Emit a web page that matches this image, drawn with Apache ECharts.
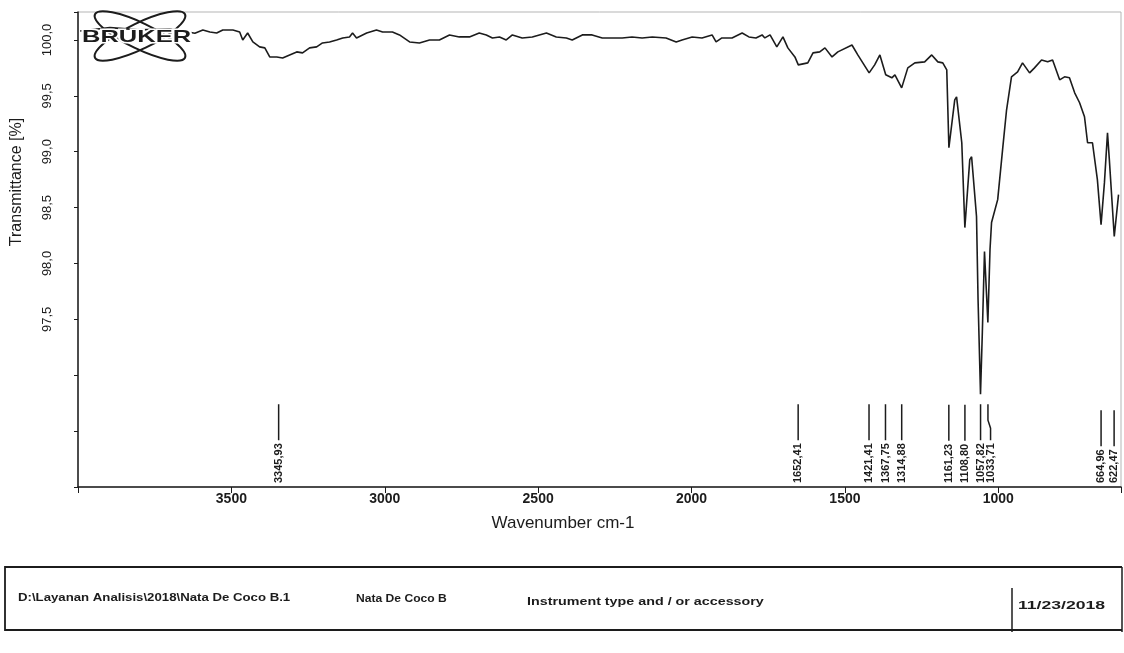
<!DOCTYPE html>
<html>
<head>
<meta charset="utf-8">
<script src="https://cdn.jsdelivr.net/npm/echarts@6/dist/echarts.min.js"></script>
<style>
  html, body { margin: 0; padding: 0; background: #fff; }
  #chart { width: 1124px; height: 653px; }
</style>
</head>
<body>
<div id="chart"></div>
<script>
// spectrum (cm-1 / %T)
const wavenumbers = [3993, 3896, 3798, 3701, 3619, 3593, 3570, 3548, 3528, 3495, 3473, 3463, 3447, 3430,
  3408, 3391, 3375, 3352, 3333, 3310, 3287, 3268, 3245, 3222, 3203, 3180, 3157, 3137, 3115, 3105, 3092,
  3059, 3027, 3007, 2975, 2952, 2919, 2887, 2854, 2822, 2789, 2757, 2724, 2692, 2669, 2649, 2626, 2604,
  2584, 2552, 2519, 2473, 2441, 2408, 2389, 2356, 2324, 2291, 2259, 2226, 2194, 2161, 2128, 2083, 2050,
  2031, 1998, 1966, 1933, 1920, 1901, 1868, 1835, 1813, 1790, 1770, 1761, 1744, 1722, 1702, 1686, 1663,
  1652, 1621, 1604, 1582, 1565, 1542, 1523, 1477, 1458, 1421, 1403, 1386, 1367, 1347, 1337, 1315, 1295,
  1272, 1240, 1217, 1197, 1181, 1168, 1161, 1142, 1136, 1119, 1109, 1093, 1087, 1071, 1066, 1058, 1052,
  1045, 1034, 1027, 1022, 1002, 986, 973, 957, 937, 921, 898, 882, 859, 839, 823, 800, 784, 768, 751,
  735, 719, 709, 693, 677, 665, 654, 644, 638, 622, 608];
const transmittance = [100.08, 100.11, 100.09, 100.10, 100.06, 100.089, 100.071, 100.062, 100.089, 100.089,
  100.071, 100.0, 100.062, 99.982, 99.938, 99.929, 99.848, 99.848, 99.839, 99.866, 99.893, 99.884, 99.929,
  99.938, 99.973, 99.982, 100.0, 100.018, 100.027, 100.062, 100.018, 100.062, 100.089, 100.071, 100.071,
  100.045, 99.982, 99.973, 100.0, 100.0, 100.045, 100.027, 100.027, 100.062, 100.045, 100.018, 100.027,
  100.0, 100.045, 100.018, 100.027, 100.062, 100.027, 100.018, 100.0, 100.045, 100.045, 100.018, 100.018,
  100.018, 100.027, 100.018, 100.027, 100.018, 99.982, 100.0, 100.027, 100.018, 100.045, 99.982, 100.018,
  100.018, 100.062, 100.027, 100.018, 100.045, 100.018, 100.045, 99.938, 100.027, 99.929, 99.848, 99.777,
  99.795, 99.884, 99.893, 99.929, 99.848, 99.893, 99.955, 99.866, 99.705, 99.777, 99.866, 99.688, 99.661,
  99.688, 99.571, 99.75, 99.795, 99.804, 99.866, 99.804, 99.795, 99.732, 99.036, 99.464, 99.491, 99.080,
  98.321, 98.929, 98.955, 98.420, 97.679, 96.830, 97.384, 98.107, 97.473, 98.125, 98.366, 98.571, 99.018,
  99.375, 99.670, 99.714, 99.795, 99.705, 99.750, 99.821, 99.804, 99.821, 99.643, 99.670, 99.661, 99.527,
  99.438, 99.313, 99.080, 99.080, 98.750, 98.348, 98.723, 99.170, 98.929, 98.241, 98.616];

const peakPositions = [3345.93, 1652.41, 1421.41, 1367.75, 1314.88, 1161.23, 1108.80, 1057.82, 1033.71, 664.96, 622.47];
const xTickLabels = [3500, 3000, 2500, 2000, 1500, 1000];
const yTickLabels = [97.5, 98.0, 98.5, 99.0, 99.5, 100.0];

const X_MIN = 600, X_MAX = 4000;
const Y_MIN = 96, Y_MAX = 100.25;

const INK = '#1c1c1c';
const FONT = "'Liberation Sans', Arial, sans-serif";
const PEAK_FONT = "bold 11px 'Liberation Sans', Arial, sans-serif";
const FOOT_FONT = "bold 11px 'Liberation Sans', Arial, sans-serif";

const measureCtx = document.createElement('canvas').getContext('2d');
measureCtx.font = PEAK_FONT;

const comma = (v, d) => v.toFixed(d).replace('.', ',');

const myChart = echarts.init(document.getElementById('chart'));

// spread crowded peak labels apart (left to right on screen)
function labelXs(api) {
  const xs = peakPositions.map(w => api.coord([w, Y_MIN])[0]);
  const out = xs.slice();
  for (let i = 1; i < out.length; i++) {
    if (out[i] - out[i - 1] < 10) out[i] = out[i - 1] + 10;
  }
  return { xs, out };
}

myChart.setOption({
  animation: false,
  backgroundColor: '#fff',
  grid: {
    left: 78, right: 3, top: 12, bottom: 166,
    show: true, borderColor: '#b5b5b5', borderWidth: 1
  },
  xAxis: {
    type: 'value',
    inverse: true,
    min: X_MIN,
    max: X_MAX,
    splitNumber: 7,
    axisLine: { lineStyle: { color: INK, width: 1.5 } },
    axisTick: { show: true, length: 6, lineStyle: { color: INK } },
    splitLine: { show: false },
    axisLabel: {
      margin: 5,
      color: INK,
      fontFamily: FONT,
      fontWeight: 'bold',
      fontSize: 14,
      formatter: v => xTickLabels.includes(v) ? String(v) : ''
    }
  },
  yAxis: {
    type: 'value',
    min: Y_MIN,
    max: Y_MAX,
    interval: 0.5,
    axisLine: { show: true, lineStyle: { color: INK, width: 1.5 } },
    axisTick: { show: true, length: 4, lineStyle: { color: INK } },
    splitLine: { show: false },
    axisLabel: {
      rotate: 90,
      margin: 24,
      color: INK,
      fontFamily: FONT,
      fontSize: 13,
      formatter: v => yTickLabels.some(t => Math.abs(t - v) < 1e-6) ? comma(v, 1) : ''
    }
  },
  series: [
    {
      type: 'line',
      data: wavenumbers.map((w, i) => [w, transmittance[i]]),
      showSymbol: false,
      lineStyle: { color: INK, width: 1.6 },
      z: 3
    },
    {
      type: 'custom',
      data: peakPositions.map(w => [w, Y_MIN]),
      encode: { x: 0, y: 1 },
      clip: false,
      z: 4,
      renderItem(params, api) {
        const w = api.value(0);
        const i = params.dataIndex;
        const pos = labelXs(api);
        const trueX = pos.xs[i];
        const x = pos.out[i];
        const bottom = api.coord([w, Y_MIN])[1] - 4;
        const label = comma(w, 2);
        const len = measureCtx.measureText(label).width;
        const top = bottom - len - 3;
        const pts = Math.abs(x - trueX) < 0.5
          ? [[x, top], [x, top - 36]]
          : [[x, top], [x, top - 12], [trueX, top - 20], [trueX, top - 36]];
        return {
          type: 'group',
          children: [
            {
              type: 'text',
              x: x, y: bottom,
              rotation: Math.PI / 2,
              style: { text: label, x: 0, y: 0, align: 'left', verticalAlign: 'middle', font: PEAK_FONT, fill: INK }
            },
            {
              type: 'polyline',
              shape: { points: pts },
              style: { stroke: INK, lineWidth: 1.5, fill: null }
            }
          ]
        };
      }
    }
  ],
  graphic: [
    // axis titles
    {
      type: 'text', x: 17, y: 182, rotation: Math.PI / 2,
      style: { text: 'Transmittance [%]', align: 'center', verticalAlign: 'middle', font: "16px 'Liberation Sans', Arial, sans-serif", fill: INK }
    },
    {
      type: 'text', x: 563, y: 523,
      style: { text: 'Wavenumber cm-1', align: 'center', verticalAlign: 'middle', font: "17px 'Liberation Sans', Arial, sans-serif", fill: INK }
    },
    // Bruker logo
    {
      type: 'ellipse', x: 140, y: 36, rotation: 0.45,
      shape: { cx: 0, cy: 0, rx: 50, ry: 13 },
      style: { fill: null, stroke: INK, lineWidth: 2 }, z: 10
    },
    {
      type: 'ellipse', x: 140, y: 36, rotation: -0.45,
      shape: { cx: 0, cy: 0, rx: 50, ry: 13 },
      style: { fill: null, stroke: INK, lineWidth: 2 }, z: 10
    },
    {
      type: 'text', x: 82, y: 37, z: 11, scaleX: 1.5,
      style: { text: 'BRUKER', align: 'left', verticalAlign: 'middle', font: "bold 17px 'Liberation Sans', Arial, sans-serif", fill: INK, stroke: '#fff', lineWidth: 3 }
    },
    // footer box
    {
      type: 'polyline', z: 5,
      shape: { points: [[1122, 567], [5, 567], [5, 630], [1122, 630]] },
      style: { stroke: INK, lineWidth: 1.8, fill: null }
    },
    {
      type: 'line', shape: { x1: 1012, y1: 588, x2: 1012, y2: 632 },
      style: { stroke: INK, lineWidth: 1.5 }
    },
    {
      type: 'line', shape: { x1: 1122, y1: 567, x2: 1122, y2: 632 },
      style: { stroke: INK, lineWidth: 1.5 }
    },
    {
      type: 'text', x: 18, y: 598, scaleX: 1.2,
      style: { text: 'D:\\Layanan Analisis\\2018\\Nata De Coco B.1', verticalAlign: 'middle', font: FOOT_FONT, fill: INK }
    },
    {
      type: 'text', x: 356, y: 599, scaleX: 1.1,
      style: { text: 'Nata De Coco B', verticalAlign: 'middle', font: FOOT_FONT, fill: INK }
    },
    {
      type: 'text', x: 527, y: 602, scaleX: 1.3,
      style: { text: 'Instrument type and / or accessory', verticalAlign: 'middle', font: FOOT_FONT, fill: INK }
    },
    {
      type: 'text', x: 1018, y: 606, scaleX: 1.6,
      style: { text: '11/23/2018', verticalAlign: 'middle', font: FOOT_FONT, fill: INK }
    }
  ]
});
</script>
</body>
</html>
